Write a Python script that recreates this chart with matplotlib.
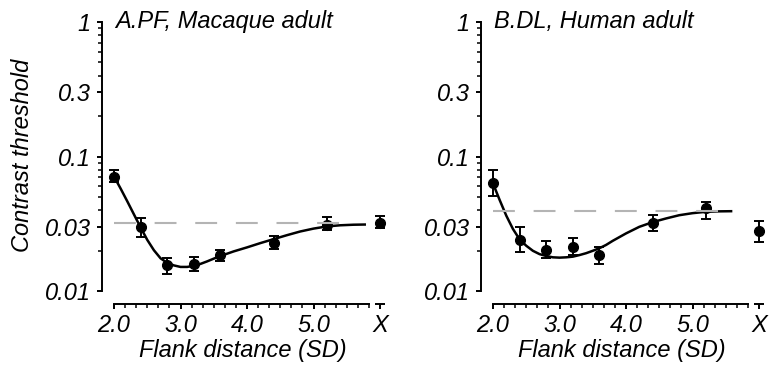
import matplotlib
matplotlib.use('Agg')
import matplotlib.pyplot as plt
import matplotlib.transforms as mtransforms

plt.rcParams['font.family'] = ['Liberation Sans', 'DejaVu Sans']
plt.rcParams['font.style'] = 'italic'

# ---------------- data ----------------
dist = [2.0, 2.4, 2.8, 3.2, 3.6, 4.4, 5.2]
x_pos = 6.0   # position of the "X" (no flank) condition

# A. PF, macaque
pf_thr = [0.0710, 0.0297, 0.0156, 0.0160, 0.0184, 0.0229, 0.0309]
pf_lo = [0.0651, 0.0250, 0.0133, 0.0141, 0.0168, 0.0205, 0.0284]
pf_hi = [0.0796, 0.0349, 0.0177, 0.0180, 0.0203, 0.0257, 0.0352]
pf_x, pf_x_lo, pf_x_hi = 0.0323, 0.0292, 0.0359
pf_ref = 0.0318
pf_fit_x = [2.0, 2.1, 2.2, 2.3, 2.4, 2.5, 2.6, 2.7, 2.8, 2.9, 3.0, 3.1, 3.2, 3.3,
            3.4, 3.5, 3.6, 3.8, 4.0, 4.2, 4.4, 4.6, 4.8, 5.0, 5.2, 5.4, 5.6, 5.77]
pf_fit_y = [0.0710, 0.0577, 0.0464, 0.0371, 0.0297, 0.0240, 0.0201, 0.0175, 0.0162,
            0.0155, 0.0151, 0.0151, 0.0154, 0.0159, 0.0166, 0.0174, 0.0182, 0.0197,
            0.0211, 0.0227, 0.0243, 0.0260, 0.0277, 0.0291, 0.0302, 0.0308, 0.0311,
            0.0312]

# B. DL, human
dl_thr = [0.0632, 0.0240, 0.0203, 0.0212, 0.0185, 0.0320, 0.0414]
dl_lo = [0.0506, 0.0195, 0.0175, 0.0185, 0.0158, 0.0280, 0.0343]
dl_hi = [0.0787, 0.0297, 0.0236, 0.0246, 0.0213, 0.0367, 0.0456]
dl_x, dl_x_lo, dl_x_hi = 0.0277, 0.0233, 0.0329
dl_ref = 0.0391
dl_fit_x = [2.0, 2.1, 2.2, 2.3, 2.4, 2.5, 2.6, 2.7, 2.8, 2.9, 3.0, 3.1, 3.2, 3.3,
            3.4, 3.5, 3.6, 3.7, 3.8, 4.0, 4.2, 4.4, 4.6, 4.8, 5.0, 5.2, 5.4, 5.58]
dl_fit_y = [0.0630, 0.0475, 0.0363, 0.0289, 0.0242, 0.0217, 0.0199, 0.0188, 0.0182,
            0.0178, 0.0177, 0.0178, 0.0180, 0.0185, 0.0191, 0.0199, 0.0208, 0.0220,
            0.0236, 0.0268, 0.0300, 0.0325, 0.0346, 0.0366, 0.0379, 0.0388, 0.0391,
            0.0392]

y_ticks = [0.01, 0.03, 0.1, 0.3, 1]
y_labels = ['0.01', '0.03', '0.1', '0.3', '1']
y_minor = [0.02, 0.04, 0.05, 0.06, 0.07, 0.08, 0.09,
           0.2, 0.4, 0.5, 0.6, 0.7, 0.8, 0.9]
x_ticks = [2, 3, 4, 5, 6]
x_labels = ['2.0', '3.0', '4.0', '5.0', 'X']
x_minor = [k / 6 for k in range(13, 36) if k % 6 != 0]

FS = 17
W, H = 771, 370
LW = 1.4


def panel(ax, thr, lo, hi, xv, xlo, xhi, ref, fx, fy, title):
    ax.set_yscale('log')
    ax.set_xlim(2 - 12 / 66.5, 6.15)
    ax.set_ylim(10 ** (-2 - 13 / 134.5), 1)

    # fitted curve
    ax.plot(fx, fy, color='black', lw=1.8, zorder=2)
    # data with error bars
    yerr = [[t - l for t, l in zip(thr, lo)], [h - t for t, h in zip(thr, hi)]]
    ax.errorbar(dist, thr, yerr=yerr, fmt='o', color='black', ms=7,
                elinewidth=1.4, capsize=3.4, capthick=1.4, zorder=3)
    ax.errorbar([x_pos], [xv], yerr=[[xv - xlo], [xhi - xv]], fmt='o',
                color='black', ms=7, elinewidth=1.4, capsize=3.4,
                capthick=1.4, zorder=3)
    # reference (unflanked) level
    ax.plot([2.0, 5.47], [ref, ref], color='#b4b4b4', lw=1.5,
            dashes=(10.5, 9), zorder=4)

    for s in ['top', 'right']:
        ax.spines[s].set_visible(False)
    ax.spines['left'].set_bounds(0.01, 1)
    ax.spines['bottom'].set_bounds(2.0, 5.84)
    for s in ['left', 'bottom']:
        ax.spines[s].set_linewidth(LW)

    ax.set_yticks(y_ticks)
    ax.set_yticklabels(y_labels)
    ax.set_yticks(y_minor, minor=True)
    ax.yaxis.set_minor_formatter(plt.NullFormatter())
    ax.set_xticks(x_ticks)
    ax.set_xticklabels(x_labels)
    ax.set_xticks(x_minor, minor=True)
    ax.tick_params(which='major', length=3.8, width=LW, labelsize=FS)
    ax.tick_params(which='minor', length=3.0, width=1.1)
    ax.tick_params(axis='y', which='major', pad=4.5)
    ax.tick_params(axis='x', which='major', pad=3.5)

    # short axis segment under the X condition
    ax.plot([5.93, 6.07], [ax.get_ylim()[0]] * 2, color='black', lw=LW,
            clip_on=False, solid_capstyle='butt')

    ax.text(2.02, 0.90, title, fontsize=FS, ha='left', va='baseline')
    trans = mtransforms.blended_transform_factory(ax.transData, ax.transAxes)
    ax.text(3.93, -0.165, 'Flank distance (SD)', fontsize=FS, ha='center',
            va='center', transform=trans)


fig = plt.figure(figsize=(W / 100, H / 100), dpi=100)
ax1 = fig.add_axes([102 / W, 66 / H, 288 / W, 282 / H])
ax2 = fig.add_axes([481 / W, 66 / H, 288 / W, 282 / H])

panel(ax1, pf_thr, pf_lo, pf_hi, pf_x, pf_x_lo, pf_x_hi, pf_ref,
      pf_fit_x, pf_fit_y, 'A.PF, Macaque adult')
panel(ax2, dl_thr, dl_lo, dl_hi, dl_x, dl_x_lo, dl_x_hi, dl_ref,
      dl_fit_x, dl_fit_y, 'B.DL, Human adult')

fig.text(23 / W, 1 - 155 / H, 'Contrast threshold', fontsize=FS,
         rotation=90, ha='center', va='center')

fig.savefig('out.png', dpi=100)
